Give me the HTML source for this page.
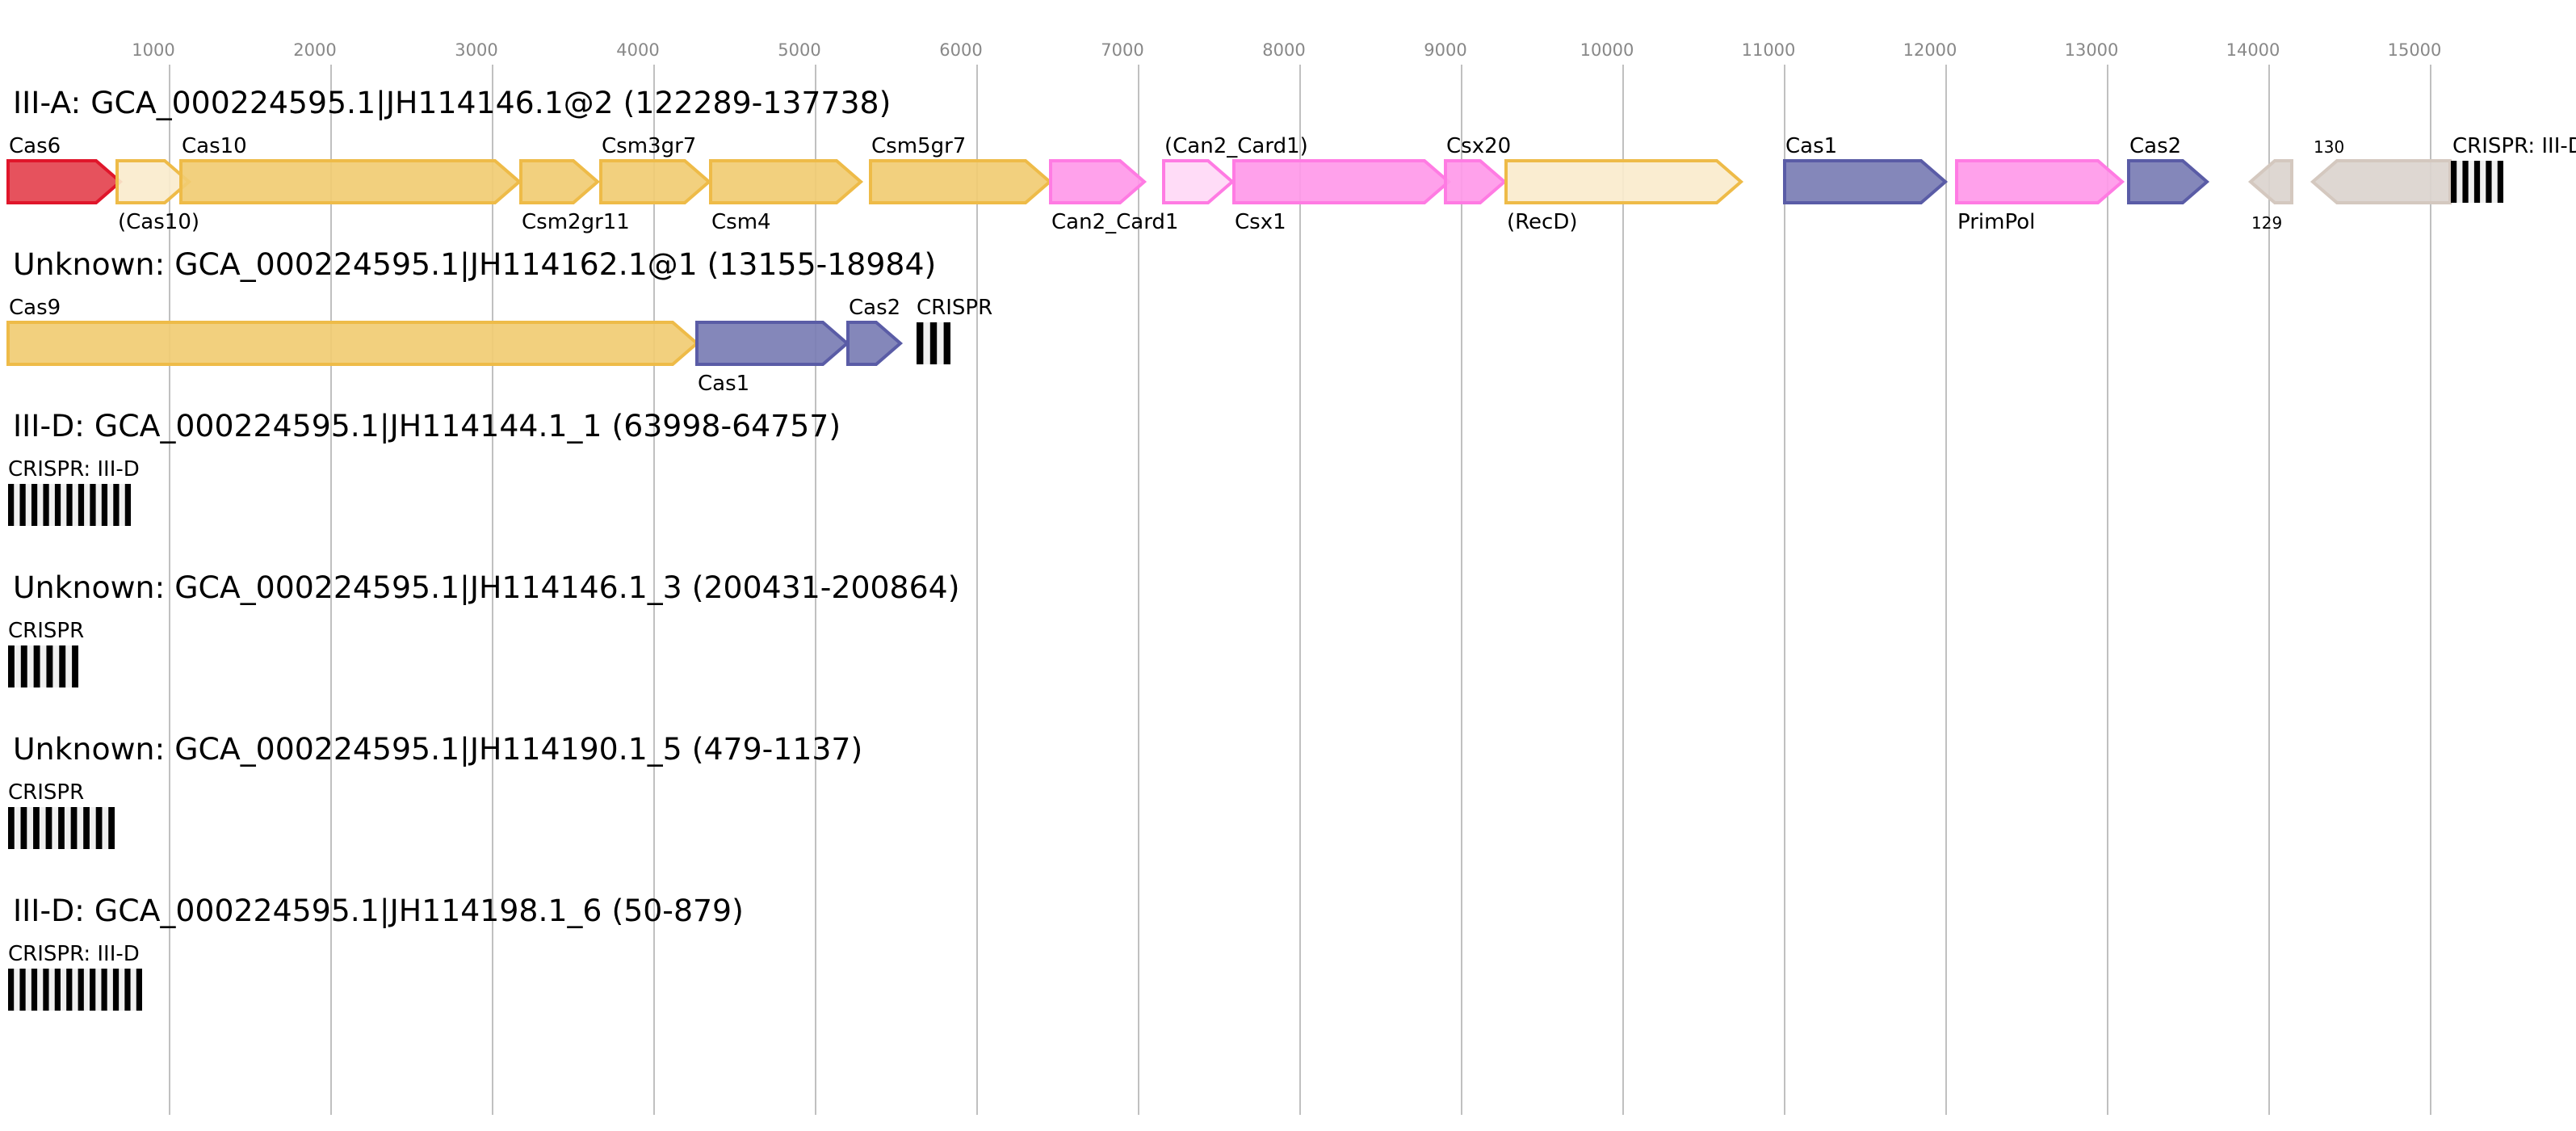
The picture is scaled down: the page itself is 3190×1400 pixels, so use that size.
<!DOCTYPE html>
<html><head><meta charset="utf-8"><style>
html,body{margin:0;padding:0;background:#fff;}
svg{display:block;font-family:"DejaVu Sans","Liberation Sans",sans-serif;}
</style></head><body>
<svg id="chart" width="3190" height="1400" viewBox="0 0 3190 1400" xmlns="http://www.w3.org/2000/svg"></svg>
<script>
const tickValues = [1000,2000,3000,4000,5000,6000,7000,8000,9000,10000,11000,12000,13000,14000,15000];
const rowTitles = [
  "III-A: GCA_000224595.1|JH114146.1@2 (122289-137738)",
  "Unknown: GCA_000224595.1|JH114162.1@1 (13155-18984)",
  "III-D: GCA_000224595.1|JH114144.1_1 (63998-64757)",
  "Unknown: GCA_000224595.1|JH114146.1_3 (200431-200864)",
  "Unknown: GCA_000224595.1|JH114190.1_5 (479-1137)",
  "III-D: GCA_000224595.1|JH114198.1_6 (50-879)"
];
const geneRow   = [0,0,0,0,0,0,0,0,0,0,0,0,0,0,0,0,0, 1,1,1];
const geneName  = ["Cas6","(Cas10)","Cas10","Csm2gr11","Csm3gr7","Csm4","Csm5gr7","Can2_Card1","(Can2_Card1)","Csx1","Csx20","(RecD)","Cas1","PrimPol","Cas2","129","130","Cas9","Cas1","Cas2"];
const geneStart = [0,675,1070,3175,3670,4350,5340,6455,7155,7590,8900,9275,11000,12065,13130,13885,14270, 0,4265,5200];
const geneEnd   = [695,1120,3165,3650,4340,5280,6450,7035,7580,8920,9265,10730,11995,13090,13615,14140,15120, 4265,5195,5525];
const geneStrand= [1,1,1,1,1,1,1,1,1,1,1,1,1,1,1,-1,-1, 1,1,1];
const geneType  = ["red","yellowLight","yellow","yellow","yellow","yellow","yellow","pink","pinkLight","pink","pink","yellowLight","blue","pink","blue","tan","tan","yellow","blue","blue"];
const geneLabelSide = [1,-1,1,-1,1,-1,1,-1,1,-1,1,-1,1,-1,1,-1,1, 1,-1,1];
const crisprRow   = [0,1,2,3,4,5];
const crisprLabel = ["CRISPR: III-D","CRISPR","CRISPR: III-D","CRISPR","CRISPR","CRISPR: III-D"];
const crisprStart = [15125,5625,0,0,0,0];
const crisprEnd   = [15450,5835,760,435,660,830];
const crisprCount = [5,3,11,6,9,12];

const styles = {
  red:{fill:"#e4434f",stroke:"#e0162b"},
  yellow:{fill:"#f1cc73",stroke:"#eebb48"},
  yellowLight:{fill:"#faebcd",stroke:"#eebb48"},
  pink:{fill:"#ff99e9",stroke:"#ff7be3"},
  pinkLight:{fill:"#ffd9f6",stroke:"#ff7be3"},
  blue:{fill:"#7a7db4",stroke:"#5a5ca6"},
  tan:{fill:"#dbd4ce",stroke:"#d4c8bf"}
};
const NS="http://www.w3.org/2000/svg";
const svg=document.getElementById('chart');
function xs(bp){return 10+bp*0.2;}
function rowTop(r){return 199+r*200;}
const H=52, HEAD=30;
function mk(tag,attrs){const e=document.createElementNS(NS,tag);for(const k in attrs)e.setAttribute(k,attrs[k]);svg.appendChild(e);return e;}

tickValues.forEach(v=>{
  const x=xs(v);
  const l=mk('line',{x1:x,x2:x,y1:80,y2:1380,stroke:"#c0c0c0","stroke-width":2});
  
  
  const t=mk('text',{x:x-20,y:69,"text-anchor":"middle","font-size":21,fill:"#888"});
  t.textContent=v;
  
  
});
rowTitles.forEach((s,r)=>{
  const t=mk('text',{x:16,y:140+r*200,"font-size":37.8,fill:"#000"});
  t.textContent=s;
  
  
});
geneName.forEach((n,i)=>{
  const top=rowTop(geneRow[i]), bot=top+H, mid=top+H/2;
  let s=xs(geneStart[i]), e=xs(geneEnd[i]);
  const h=Math.min(HEAD,e-s);
  let pts;
  if(geneStrand[i]>0) pts=[[s,top],[e-h,top],[e,mid],[e-h,bot],[s,bot]];
  else pts=[[e,top],[s+h,top],[s,mid],[s+h,bot],[e,bot]];
  const st=styles[geneType[i]];
  const p=mk('polygon',{points:pts.map(p=>p.join(',')).join(' '),fill:st.fill,"fill-opacity":0.92,stroke:st.stroke,"stroke-width":4,"stroke-linejoin":"miter"});
  
  
  const small=/^\d+$/.test(n);
  const fs=small?20:26;
  const y=geneLabelSide[i]>0?top-10:bot+32;
  const t=mk('text',{x:s+1,y:y,"font-size":fs,fill:"#000"});
  t.textContent=n;
  
  
});
crisprRow.forEach((r,i)=>{
  const top=rowTop(r), s=xs(crisprStart[i]), e=xs(crisprEnd[i]);
  const n=crisprCount[i], w=(e-s)/(2*n-1);
  const bg=mk('rect',{x:s,y:top,width:e-s,height:H,fill:"#f0f0f0"});
  
  
  for(let k=0;k<n;k++){
    const b=mk('rect',{x:s+2*k*w,y:top,width:w,height:H,fill:"#000"});
    
    
  }
  const t=mk('text',{x:s+(i==0?2:0),y:top-10,"font-size":26,fill:"#000"});
  t.textContent=crisprLabel[i];
  
  
});
</script>
</body></html>
